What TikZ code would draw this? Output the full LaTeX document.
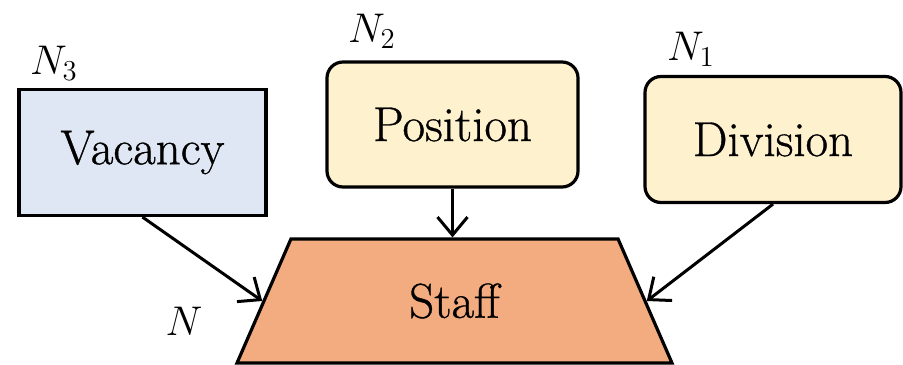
\documentclass[tikz,border=0pt]{standalone}
\usepackage{fontspec}
\newfontfamily\boxfont{Latin Modern Roman}[FakeBold=0.7]
\usetikzlibrary{shapes.geometric,arrows.meta}
\definecolor{vacfill}{HTML}{DEE7F3}
\definecolor{creamfill}{HTML}{FEF1CD}
\definecolor{stafffill}{HTML}{F3AC7F}
\begin{document}
\begin{tikzpicture}[x=0.5pt,y=-0.5pt,
  box/.style={draw=black, line width=1.6pt, minimum width=#1, minimum height=63pt, inner sep=0pt,
    font=\boxfont\fontsize{24.5}{28}\selectfont},
  lab/.style={inner sep=0pt, font=\huge},
  conn/.style={draw=black, line width=1.5pt, -{Straight Barb[length=9pt,width=15pt,line width=1.5pt]}}]
\useasboundingbox (0,0) rectangle (903,364);
\node[box=123.5pt, fill=vacfill] (vac) at (142.5,152.5) {Vacancy};
\node[box=125.5pt, fill=creamfill, rounded corners=8pt, minimum height=62.5pt] (pos) at (452.5,124.5) {Position};
\node[box=128pt, fill=creamfill, rounded corners=8pt] (div) at (773,139.5) {Division};
\node[trapezium, trapezium angle=67, trapezium stretches=true, draw=black, line width=1.6pt,
  fill=stafffill, minimum width=217.5pt, minimum height=62pt, inner sep=0pt,
  font=\boxfont\fontsize{24.5}{28}\selectfont] (staff) at (454.5,301) {Staff};
\node[lab] (n3) at (54,63) {$N_3$};
\node[lab] (n2) at (372,31) {$N_2$};
\node[lab] (n1) at (691,49) {$N_1$};
\node[lab] (n) at (184,321) {$N$};
\draw[conn] (vac.south) -- (staff.left side);
\draw[conn] (pos.south) -- (pos.south |- staff.top side);
\draw[conn] (div.south) -- (staff.right side);
\end{tikzpicture}
\end{document}
